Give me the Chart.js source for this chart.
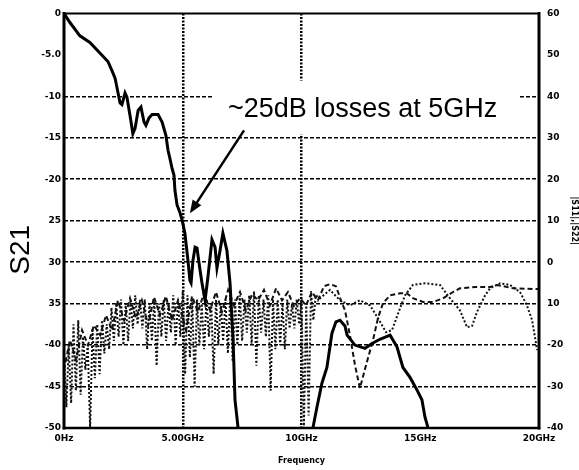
<!DOCTYPE html>
<html>
<head>
<meta charset="utf-8">
<script src="https://cdn.jsdelivr.net/npm/chart.js@4.4.1/dist/chart.umd.min.js"></script>
<style>
  html, body { margin: 0; padding: 0; background: #fff; }
  canvas { display: block; }
</style>
</head>
<body>
<canvas id="s21Chart" width="579" height="470"></canvas>
<script>
// --- Data ---
const xTickValues = [0, 5, 10, 15, 20];
const xTickLabels = ['0Hz', '5.00GHz', '10GHz', '15GHz', '20GHz'];
const leftTickValues = [0, -5, -10, -15, -20, -25, -30, -35, -40, -45, -50];
const leftTickLabels = ['0', '-5.0', '-10', '-15', '-20', '25', '30', '35', '-40', '-45', '-50'];
const rightTickValues = [60, 50, 40, 30, 20, 10, 0, -10, -20, -30, -40];
const rightTickLabels = ['60', '50', '40', '30', '20', '10', '0', '10', '-20', '-30', '-40'];

// S21 in dB (left axis), frequency in GHz
const s21Freq = [0, 0.25, 0.67, 1.09, 1.52, 1.85, 2.02, 2.15, 2.27, 2.36, 2.44, 2.57, 2.65, 2.78, 2.9, 2.99,
  3.12, 3.24, 3.37, 3.45, 3.58, 3.71, 3.96, 4.13, 4.29, 4.38, 4.46, 4.55, 4.63, 4.67, 4.76, 4.88, 4.97,
  5.09, 5.22, 5.3, 5.35, 5.43, 5.52, 5.6, 5.73, 5.81, 5.94, 6.06, 6.23, 6.36, 6.44, 6.57, 6.69, 6.86,
  6.99, 7.12, 7.2, 7.33, 7.6, 10.2, 10.48, 10.65, 10.86, 11.07, 11.28, 11.45, 11.62, 11.83, 11.92, 12.25,
  12.67, 12.97, 13.3, 13.73, 14.02, 14.27, 14.57, 14.86, 15.07, 15.2, 15.33, 15.6];
const s21Val = [0, -1.1, -2.7, -3.5, -4.8, -5.8, -6.9, -7.8, -9.5, -10.8, -11.0, -9.6, -10.1, -12.3, -14.5, -13.9,
  -11.7, -11.3, -13.1, -13.5, -12.6, -12.2, -12.2, -13.1, -14.7, -16.5, -17.5, -18.7, -19.5, -21.3, -23.1, -24.0, -24.9,
  -26.5, -29.8, -32.2, -32.5, -29.8, -28.2, -28.3, -31.0, -32.5, -34.6, -31.8, -27.3, -28.2, -30.7, -28.6, -26.5, -28.6,
  -32.5, -39.4, -46.6, -50, -56, -56, -50, -47.5, -44.6, -42.7, -38.6, -37.2, -37.0, -37.7, -38.8, -40.0,
  -40.4, -39.8, -39.3, -38.8, -40.2, -42.7, -43.9, -45.4, -46.6, -48.7, -50, -56];

// |S11| (right axis, dotted)
const s11Freq = [0.0, 0.1, 0.2, 0.3, 0.4, 0.5, 0.6, 0.7, 0.8, 0.9, 1.0, 1.1, 1.2, 1.3, 1.4, 1.5, 1.6, 1.7, 1.8, 1.9,
  2.0, 2.1, 2.2, 2.3, 2.4, 2.5, 2.6, 2.7, 2.8, 2.9, 3.0, 3.1, 3.2, 3.3, 3.4, 3.5, 3.6, 3.7, 3.8, 3.9,
  4.0, 4.1, 4.2, 4.3, 4.4, 4.5, 4.6, 4.7, 4.8, 4.9, 5.0, 5.1, 5.2, 5.3, 5.4, 5.5, 5.6, 5.7, 5.8, 5.9,
  6.0, 6.1, 6.2, 6.3, 6.4, 6.5, 6.6, 6.7, 6.8, 6.9, 7.0, 7.1, 7.2, 7.3, 7.4, 7.5, 7.6, 7.7, 7.8, 7.9,
  8.0, 8.1, 8.2, 8.3, 8.4, 8.5, 8.6, 8.7, 8.8, 8.9, 9.0, 9.1, 9.2, 9.3, 9.4, 9.5, 9.6, 9.7, 9.8, 9.9,
  10.0, 10.1, 10.2, 10.3, 10.4, 10.5, 10.6,
  10.78, 11.2, 11.62, 12.04, 12.46, 12.88, 13.22, 13.56, 13.81, 14.15, 14.36, 14.69, 15.2, 15.83,
  16.25, 16.67, 16.97, 17.18, 17.39, 17.73, 17.94, 18.36, 18.78, 19.2, 19.49, 19.71, 19.83, 19.92];
const s11Val = [-22, -35, -20, -34, -15, -31, -14, -32, -18, -26, -20, -40, -16, -28, -15, -27, -14, -22, -15, -21,
  -11, -19, -10, -18, -9, -20, -10, -19, -9, -16, -8, -15, -9, -16, -9, -21, -10, -19, -9, -25,
  -10, -18, -9, -19, -10, -17, -8, -20, -9, -18, -7, -27, -8, -23, -9, -30, -9, -20, -10, -21,
  -9, -18, -10, -27, -9, -20, -10, -19, -9, -22, -8, -24, -9, -20, -8, -19, -9, -17, -8, -20,
  -7, -25, -8, -17, -9, -18, -8, -31, -9, -21, -9, -20, -10, -21, -9, -16, -10, -16, -9, -15,
  -9, -40, -10, -37, -7, -14, -8,
  -8.7, -6.7, -9.2, -10.4, -9.2, -10.4, -13.5, -16.9, -16.4, -11.1, -8, -5.5, -5.1, -5.5,
  -8.7, -11.6, -15.7, -15.4, -12, -8, -6.3, -5.1, -5.5, -7.2, -10.4, -14, -18.1, -21.2];

// |S22| (right axis, dashed)
const s22Freq = [0, 0.25, 0.51, 0.76, 1.01, 1.26, 1.52, 1.77, 2.02, 2.27, 2.53, 2.78, 3.03, 3.28, 3.54, 3.79,
  4.04, 4.29, 4.55, 4.8, 5.14, 5.39, 5.64, 5.89, 6.15, 6.4, 6.65, 6.91, 7.16, 7.41, 7.66, 7.92, 8.17, 8.42,
  8.67, 8.93, 9.18, 9.43, 9.68, 9.94, 10.19, 10.44, 10.69, 10.95, 11.2, 11.45, 11.66, 11.83, 12.04, 12.25,
  12.46, 12.72, 13.01, 13.22, 13.43, 13.73, 14.15, 14.44, 14.69, 15.12, 15.54, 15.96, 16.38, 16.67, 17.31,
  17.94, 18.23, 18.91, 20];
const s22Val = [-26, -18.8, -23.6, -16.4, -20, -15.2, -17.6, -12.8, -16.4, -9.2, -14, -8.7, -13.5, -9.2, -15.2, -8.4,
  -12.8, -8.2, -14, -9.2, -16.4, -8.2, -12, -7.5, -11.6, -7.2, -12, -6.7, -10.4, -7.2, -11.6, -7.7, -9.2, -6.7,
  -10.4, -6.3, -9.2, -7.2, -10.6, -8.7, -10.4, -7.2, -9.2, -5.8, -5.3, -5.8, -9.2, -11.6, -17.6, -24.8,
  -30.4, -24.8, -18.8, -13.5, -9.9, -8, -7.5, -7.5, -8.7, -9.6, -9.6, -8.7, -7.2, -6.3, -6,
  -6, -5.5, -6.3, -6.5];

// annotation, in data units (GHz / dB on the left axis)
const note = {
  text: '~25dB losses at 5GHz',
  textAt: [6.9, -12.5],
  box: [6.27, -8.1, 19.2, -14.6],
  arrowFrom: [7.58, -14.1],
  arrowTo: [5.3, -24.1]
};

const toPoints = (xs, ys) => xs.map((x, i) => ({ x: x, y: ys[i] }));

Chart.defaults.font.family = "'DejaVu Sans', sans-serif";
Chart.defaults.color = '#000';

// frame around the plot
const framePlugin = {
  id: 'frame',
  afterDatasetsDraw(chart) {
    const { ctx, chartArea: a } = chart;
    ctx.save();
    ctx.strokeStyle = '#000';
    ctx.lineCap = 'square';
    ctx.lineWidth = 2;
    ctx.beginPath(); ctx.moveTo(a.left, a.top); ctx.lineTo(a.right, a.top); ctx.stroke();
    ctx.lineWidth = 2.5;
    ctx.beginPath(); ctx.moveTo(a.left, a.bottom); ctx.lineTo(a.right, a.bottom); ctx.stroke();
    ctx.lineWidth = 3;
    ctx.beginPath(); ctx.moveTo(a.left, a.top); ctx.lineTo(a.left, a.bottom); ctx.stroke();
    ctx.beginPath(); ctx.moveTo(a.right, a.top); ctx.lineTo(a.right, a.bottom); ctx.stroke();
    ctx.restore();
  }
};

// text note with arrow, plus the big S21 axis label
const notePlugin = {
  id: 'note',
  afterDraw(chart) {
    const { ctx } = chart;
    const xs = chart.scales.x, ys = chart.scales.y;
    const px = v => xs.getPixelForValue(v), py = v => ys.getPixelForValue(v);
    ctx.save();
    const b = note.box;
    ctx.fillStyle = '#fff';
    ctx.fillRect(px(b[0]), py(b[1]), px(b[2]) - px(b[0]), py(b[3]) - py(b[1]));
    ctx.fillStyle = '#000';
    ctx.font = "27px 'Liberation Sans', Arial, sans-serif";
    ctx.textBaseline = 'alphabetic';
    ctx.fillText(note.text, px(note.textAt[0]), py(note.textAt[1]));

    const x1 = px(note.arrowFrom[0]), y1 = py(note.arrowFrom[1]);
    const x2 = px(note.arrowTo[0]), y2 = py(note.arrowTo[1]);
    const ang = Math.atan2(y2 - y1, x2 - x1);
    const head = 14;
    ctx.strokeStyle = '#000';
    ctx.lineWidth = 2.5;
    ctx.beginPath();
    ctx.moveTo(x1, y1);
    ctx.lineTo(x2 - Math.cos(ang) * head * 0.8, y2 - Math.sin(ang) * head * 0.8);
    ctx.stroke();
    ctx.beginPath();
    ctx.moveTo(x2, y2);
    ctx.lineTo(x2 - head * Math.cos(ang - 0.38), y2 - head * Math.sin(ang - 0.38));
    ctx.lineTo(x2 - head * Math.cos(ang + 0.38), y2 - head * Math.sin(ang + 0.38));
    ctx.closePath();
    ctx.fill();

    // left axis name
    ctx.translate(21, py(-28.5));
    ctx.rotate(-Math.PI / 2);
    ctx.textAlign = 'center';
    ctx.textBaseline = 'middle';
    ctx.font = "28px 'Liberation Sans', Arial, sans-serif";
    ctx.fillText('S21', 0, 0);
    ctx.restore();
  }
};

const tickFont = { size: 9, weight: 'bold' };

const ctx = document.getElementById('s21Chart').getContext('2d');
new Chart(ctx, {
  type: 'line',
  data: {
    datasets: [
      {
        label: 'S21',
        data: toPoints(s21Freq, s21Val),
        yAxisID: 'y',
        borderColor: '#000',
        borderWidth: 3,
        pointRadius: 0,
        tension: 0,
        order: 0
      },
      {
        label: '|S11|',
        data: toPoints(s11Freq, s11Val),
        yAxisID: 'y2',
        borderColor: '#111',
        borderWidth: 2,
        borderDash: [2, 2],
        pointRadius: 0,
        tension: 0,
        order: 1
      },
      {
        label: '|S22|',
        data: toPoints(s22Freq, s22Val),
        yAxisID: 'y2',
        borderColor: '#111',
        borderWidth: 2,
        borderDash: [5, 3],
        pointRadius: 0,
        tension: 0,
        order: 2
      }
    ]
  },
  options: {
    responsive: false,
    animation: false,
    devicePixelRatio: 1,
    layout: { padding: { top: 13, left: 0, right: 0, bottom: 0 } },
    plugins: {
      legend: { display: false },
      tooltip: { enabled: false }
    },
    scales: {
      x: {
        type: 'linear',
        min: 0,
        max: 20,
        afterBuildTicks: s => { s.ticks = xTickValues.map(v => ({ value: v })); },
        afterFit: s => { s.height = 42; },
        ticks: {
          font: tickFont,
          padding: 5,
          maxRotation: 0,
          callback: v => xTickLabels[xTickValues.indexOf(v)]
        },
        grid: {
          color: c => (c.tick && (c.tick.value === 5 || c.tick.value === 10)) ? '#000' : 'transparent',
          lineWidth: 2.5,
          drawTicks: false
        },
        border: { display: false, dash: [2, 1.5] },
        title: {
          display: true,
          text: 'Frequency',
          font: { size: 8, weight: 'bold' },
          padding: { top: 0, bottom: 4 }
        }
      },
      y: {
        position: 'left',
        min: -50,
        max: 0,
        afterBuildTicks: s => { s.ticks = leftTickValues.map(v => ({ value: v })); },
        afterFit: s => { s.width = 64; },
        ticks: {
          font: tickFont,
          padding: 3,
          autoSkip: false,
          callback: v => leftTickLabels[leftTickValues.indexOf(v)]
        },
        grid: {
          color: c => (c.tick && c.tick.value <= -10 && c.tick.value >= -45) ? '#000' : 'transparent',
          lineWidth: 1.5,
          drawTicks: false
        },
        border: { display: false, dash: [4, 2] }
      },
      y2: {
        position: 'right',
        min: -40,
        max: 60,
        afterBuildTicks: s => { s.ticks = rightTickValues.map(v => ({ value: v })); },
        afterFit: s => { s.width = 40; },
        ticks: {
          font: tickFont,
          padding: 8,
          autoSkip: false,
          callback: v => rightTickLabels[rightTickValues.indexOf(v)]
        },
        grid: { display: false, drawTicks: false },
        border: { display: false },
        title: {
          display: true,
          text: '|S11|,|S22|',
          font: { size: 8, weight: 'bold' },
          padding: 0
        }
      }
    }
  },
  plugins: [framePlugin, notePlugin]
});
</script>
</body>
</html>
